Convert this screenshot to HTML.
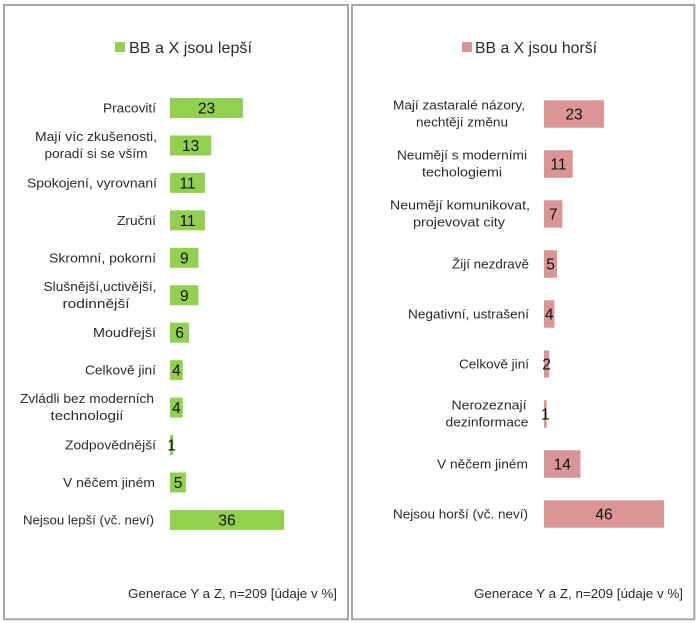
<!DOCTYPE html>
<html><head><meta charset="utf-8">
<style>
html,body{margin:0;padding:0;background:#fff;}
svg{display:block;}
text{font-family:"Liberation Sans",sans-serif;}
.lb{font-size:12.5px;fill:#2b2b2b;}
.v{font-size:15.5px;fill:#111;text-anchor:middle;}
.lg{font-size:16px;fill:#2b2b2b;}
.ft{font-size:12.5px;fill:#2b2b2b;}
</style></head>
<body>
<svg width="700" height="623" viewBox="0 0 700 623" xmlns="http://www.w3.org/2000/svg">
<rect x="0" y="0" width="700" height="623" fill="#fff"/>
<rect x="4" y="5" width="344" height="614.3" fill="none" stroke="#a6a6a6" stroke-width="2"/>
<rect x="352" y="5" width="342.3" height="614.3" fill="none" stroke="#a6a6a6" stroke-width="2"/>

<!-- LEFT legend -->
<rect x="115" y="42" width="10" height="10" fill="#92d050"/>
<text class="lg" x="129" y="53" textLength="123" lengthAdjust="spacingAndGlyphs">BB a X jsou lepší</text>

<!-- LEFT bars -->
<g fill="#92d050">
<rect x="170" y="98" width="72.9" height="20"/>
<rect x="170" y="135.45" width="41.2" height="20"/>
<rect x="170" y="172.9" width="34.9" height="20"/>
<rect x="170" y="210.35" width="34.9" height="20"/>
<rect x="170" y="247.8" width="28.5" height="20"/>
<rect x="170" y="285.25" width="28.5" height="20"/>
<rect x="170" y="322.7" width="19" height="20"/>
<rect x="170" y="360.15" width="12.7" height="20"/>
<rect x="170" y="397.6" width="12.7" height="20"/>
<rect x="170" y="435.05" width="3.2" height="20"/>
<rect x="170" y="472.5" width="15.9" height="20"/>
<rect x="170" y="509.95" width="114.1" height="20"/>
</g>
<g class="v">
<text x="206.5" y="113.5">23</text>
<text x="190.6" y="150.95">13</text>
<text x="187.5" y="188.4">11</text>
<text x="187.5" y="225.85">11</text>
<text x="184.3" y="263.3">9</text>
<text x="184.3" y="300.75">9</text>
<text x="179.5" y="338.2">6</text>
<text x="176.4" y="375.65">4</text>
<text x="176.4" y="413.1">4</text>
<text x="171.6" y="450.55">1</text>
<text x="178" y="488">5</text>
<text x="227" y="525.45">36</text>
</g>
<g class="lb">
<text x="156" y="112.5" text-anchor="end" textLength="53" lengthAdjust="spacingAndGlyphs">Pracovití</text>
<text x="96" y="141" text-anchor="middle" textLength="122" lengthAdjust="spacingAndGlyphs">Mají víc zkušenosti,</text>
<text x="96" y="158" text-anchor="middle" textLength="103" lengthAdjust="spacingAndGlyphs">poradí si se vším</text>
<text x="157" y="187.4" text-anchor="end" textLength="130" lengthAdjust="spacingAndGlyphs">Spokojení, vyrovnaní</text>
<text x="156" y="224.85" text-anchor="end" textLength="39" lengthAdjust="spacingAndGlyphs">Zruční</text>
<text x="156" y="262.3" text-anchor="end" textLength="107" lengthAdjust="spacingAndGlyphs">Skromní, pokorní</text>
<text x="100" y="290.75" text-anchor="middle" textLength="113" lengthAdjust="spacingAndGlyphs">Slušnější,uctivější,</text>
<text x="96" y="307.75" text-anchor="middle" textLength="67" lengthAdjust="spacingAndGlyphs">rodinnější</text>
<text x="156" y="337.2" text-anchor="end" textLength="63" lengthAdjust="spacingAndGlyphs">Moudřejší</text>
<text x="156" y="374.65" text-anchor="end" textLength="71" lengthAdjust="spacingAndGlyphs">Celkově jiní</text>
<text x="87" y="403.1" text-anchor="middle" textLength="134" lengthAdjust="spacingAndGlyphs">Zvládli bez moderních</text>
<text x="87" y="420.1" text-anchor="middle" textLength="73" lengthAdjust="spacingAndGlyphs">technologií</text>
<text x="156" y="449.55" text-anchor="end" textLength="91" lengthAdjust="spacingAndGlyphs">Zodpovědnější</text>
<text x="155" y="487" text-anchor="end" textLength="92" lengthAdjust="spacingAndGlyphs">V něčem jiném</text>
<text x="154" y="524.45" text-anchor="end" textLength="131" lengthAdjust="spacingAndGlyphs">Nejsou lepší (vč. neví)</text>
</g>
<text class="ft" x="128" y="598" textLength="209" lengthAdjust="spacingAndGlyphs">Generace Y a Z, n=209 [údaje v %]</text>

<!-- RIGHT legend -->
<rect x="462" y="42" width="10" height="10" fill="#d99694"/>
<text class="lg" x="475" y="53" textLength="122" lengthAdjust="spacingAndGlyphs">BB a X jsou horší</text>

<!-- RIGHT bars -->
<g fill="#d99694">
<rect x="544" y="100.25" width="60" height="27.5"/>
<rect x="544" y="150.25" width="28.7" height="27.5"/>
<rect x="544" y="200.25" width="18.3" height="27.5"/>
<rect x="544" y="250.25" width="13" height="27.5"/>
<rect x="544" y="300.25" width="10.4" height="27.5"/>
<rect x="544" y="350.25" width="5.2" height="27.5"/>
<rect x="544" y="400.25" width="2.6" height="27.5"/>
<rect x="544" y="450.25" width="36.5" height="27.5"/>
<rect x="544" y="500.25" width="120" height="27.5"/>
</g>
<g class="v">
<text x="574" y="119.5">23</text>
<text x="558.4" y="169.5">11</text>
<text x="553.2" y="219.5">7</text>
<text x="550.5" y="269.5">5</text>
<text x="549.2" y="319.5">4</text>
<text x="546.6" y="369.5">2</text>
<text x="545.3" y="419.5">1</text>
<text x="562.3" y="469.5">14</text>
<text x="604" y="519.5">46</text>
</g>
<g class="lb">
<text x="459" y="109.5" text-anchor="middle" textLength="132" lengthAdjust="spacingAndGlyphs">Mají zastaralé názory,</text>
<text x="462" y="126.5" text-anchor="middle" textLength="92" lengthAdjust="spacingAndGlyphs">nechtějí změnu</text>
<text x="462" y="159.5" text-anchor="middle" textLength="130" lengthAdjust="spacingAndGlyphs">Neumějí s moderními</text>
<text x="462" y="176.5" text-anchor="middle" textLength="80" lengthAdjust="spacingAndGlyphs">techologiemi</text>
<text x="460" y="209.5" text-anchor="middle" textLength="140" lengthAdjust="spacingAndGlyphs">Neumějí komunikovat,</text>
<text x="459" y="226.5" text-anchor="middle" textLength="92" lengthAdjust="spacingAndGlyphs">projevovat city</text>
<text x="529" y="268.5" text-anchor="end" textLength="77" lengthAdjust="spacingAndGlyphs">Žijí nezdravě</text>
<text x="529" y="318.5" text-anchor="end" textLength="121" lengthAdjust="spacingAndGlyphs">Negativní, ustrašení</text>
<text x="529" y="368.5" text-anchor="end" textLength="70" lengthAdjust="spacingAndGlyphs">Celkově jiní</text>
<text x="489" y="409.5" text-anchor="middle" textLength="75" lengthAdjust="spacingAndGlyphs">Nerozeznají</text>
<text x="487" y="426.5" text-anchor="middle" textLength="83" lengthAdjust="spacingAndGlyphs">dezinformace</text>
<text x="528" y="468.5" text-anchor="end" textLength="91" lengthAdjust="spacingAndGlyphs">V něčem jiném</text>
<text x="528" y="518.5" text-anchor="end" textLength="135" lengthAdjust="spacingAndGlyphs">Nejsou horší (vč. neví)</text>
</g>
<text class="ft" x="474" y="598" textLength="209" lengthAdjust="spacingAndGlyphs">Generace Y a Z, n=209 [údaje v %]</text>
</svg>
</body></html>
